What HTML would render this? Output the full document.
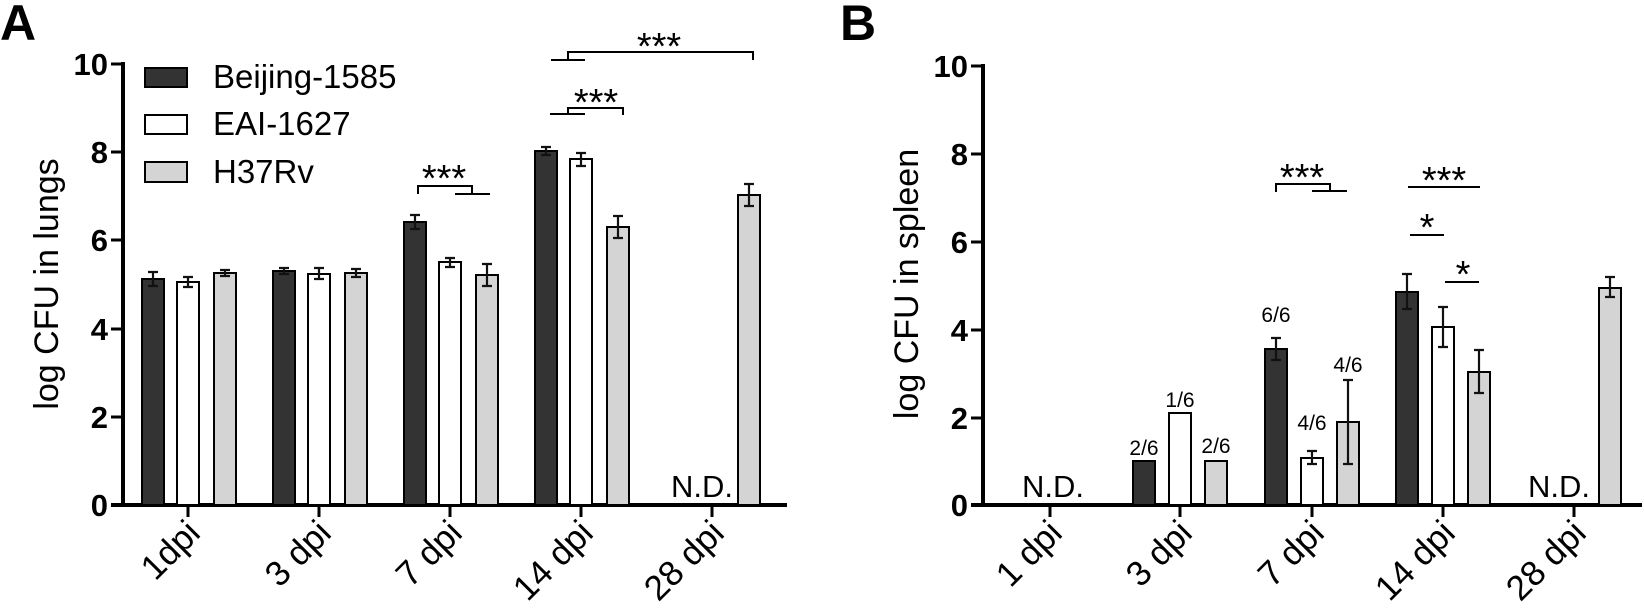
<!DOCTYPE html>
<html><head><meta charset="utf-8"><style>
html,body{margin:0;padding:0;background:#fff;}
svg{display:block;}
text{font-family:"Liberation Sans",Arial,sans-serif;fill:#000;}
.tk{font-family:"Liberation Sans Narrow","Liberation Sans",sans-serif;font-weight:bold;font-size:31px;}
.xl{font-size:35px;}
.st{font-size:38px;}
.fr{font-size:21px;}
.bar{stroke:#000;stroke-width:2;}
.eb{stroke:#111;stroke-width:2.2;fill:none;}
.br{stroke:#000;stroke-width:2;fill:none;}
</style></head><body>
<svg width="1644" height="610" viewBox="0 0 1644 610" xmlns="http://www.w3.org/2000/svg">
<!-- Panel A -->
<text x="0" y="40" style="font-weight:bold;font-size:50px">A</text>
<line x1="123" y1="62" x2="123" y2="507" stroke="#000" stroke-width="4"/>
<line x1="111" y1="505" x2="787" y2="505" stroke="#000" stroke-width="4"/>
<g stroke="#000" stroke-width="3">
<line x1="111" y1="64" x2="123" y2="64"/><line x1="111" y1="152" x2="123" y2="152"/>
<line x1="111" y1="240" x2="123" y2="240"/><line x1="111" y1="329" x2="123" y2="329"/>
<line x1="111" y1="417" x2="123" y2="417"/>
<line x1="188" y1="505" x2="188" y2="517"/><line x1="319" y1="505" x2="319" y2="517"/>
<line x1="450" y1="505" x2="450" y2="517"/><line x1="581" y1="505" x2="581" y2="517"/>
<line x1="712" y1="505" x2="712" y2="517"/>
</g>
<g class="tk" text-anchor="end">
<text x="108" y="75">10</text><text x="108" y="163">8</text><text x="108" y="251">6</text>
<text x="108" y="340">4</text><text x="108" y="428">2</text><text x="108" y="516">0</text>
</g>
<text transform="translate(58,284) rotate(-90)" text-anchor="middle" style="font-size:34px">log CFU in lungs</text>
<!-- legend -->
<rect x="145" y="68" width="42" height="19" fill="#333" class="bar"/>
<rect x="145" y="115" width="42" height="19" fill="#fff" class="bar"/>
<rect x="145" y="162" width="42" height="20" fill="#d4d4d4" class="bar"/>
<g style="font-size:33px"><text x="213" y="88">Beijing-1585</text><text x="213" y="135">EAI-1627</text><text x="213" y="183">H37Rv</text></g>
<!-- bars A -->
<g class="bar">
<rect x="142" y="279" width="22" height="226" fill="#333"/>
<rect x="177" y="282" width="22" height="223" fill="#fff"/>
<rect x="214" y="273" width="22" height="232" fill="#d4d4d4"/>
<rect x="273" y="271" width="22" height="234" fill="#333"/>
<rect x="308" y="274" width="22" height="231" fill="#fff"/>
<rect x="345" y="273" width="22" height="232" fill="#d4d4d4"/>
<rect x="404" y="222" width="22" height="283" fill="#333"/>
<rect x="439" y="262" width="22" height="243" fill="#fff"/>
<rect x="476" y="275" width="22" height="230" fill="#d4d4d4"/>
<rect x="535" y="151" width="22" height="354" fill="#333"/>
<rect x="570" y="159" width="22" height="346" fill="#fff"/>
<rect x="607" y="227" width="22" height="278" fill="#d4d4d4"/>
<rect x="738" y="195" width="22" height="310" fill="#d4d4d4"/>
</g>
<g class="eb">
<path d="M153 272v14M148 272h10M148 286h10"/>
<path d="M188 277v10M183 277h10M183 287h10"/>
<path d="M225 270v6M220 270h10M220 276h10"/>
<path d="M284 268v6M279 268h10M279 274h10"/>
<path d="M319 268v11M314 268h10M314 279h10"/>
<path d="M356 269v8M351 269h10M351 277h10"/>
<path d="M415 215v14M410 215h10M410 229h10"/>
<path d="M450 258v9M445 258h10M445 267h10"/>
<path d="M487 264v22M482 264h10M482 286h10"/>
<path d="M546 147v8M541 147h10M541 155h10"/>
<path d="M581 153v13M576 153h10M576 166h10"/>
<path d="M618 216v22M613 216h10M613 238h10"/>
<path d="M749 184v22M744 184h10M744 206h10"/>
</g>
<text x="702" y="497" text-anchor="middle" style="font-size:31px">N.D.</text>
<!-- brackets A -->
<g class="br">
<path d="M418 194V186H472V194M455 194H490"/>
<path d="M550 114H585M568 114V108H623V115"/>
<path d="M551 60H585M568 60V52H753V60"/>
</g>
<g class="st" text-anchor="middle">
<text x="444" y="191">***</text><text x="596" y="115">***</text><text x="659" y="59">***</text>
</g>
<g class="xl" text-anchor="end">
<text transform="translate(202,535) rotate(-45)">1dpi</text>
<text transform="translate(333,535) rotate(-45)">3 dpi</text>
<text transform="translate(464,535) rotate(-45)">7 dpi</text>
<text transform="translate(595,535) rotate(-45)">14 dpi</text>
<text transform="translate(726,535) rotate(-45)">28 dpi</text>
</g>

<!-- Panel B -->
<text x="840" y="40" style="font-weight:bold;font-size:50px">B</text>
<line x1="983" y1="64" x2="983" y2="507" stroke="#000" stroke-width="4"/>
<line x1="971" y1="505" x2="1642" y2="505" stroke="#000" stroke-width="4"/>
<g stroke="#000" stroke-width="3">
<line x1="971" y1="66" x2="983" y2="66"/><line x1="971" y1="154" x2="983" y2="154"/>
<line x1="971" y1="242" x2="983" y2="242"/><line x1="971" y1="330" x2="983" y2="330"/>
<line x1="971" y1="418" x2="983" y2="418"/>
<line x1="1050" y1="505" x2="1050" y2="517"/><line x1="1180" y1="505" x2="1180" y2="517"/>
<line x1="1312" y1="505" x2="1312" y2="517"/><line x1="1443" y1="505" x2="1443" y2="517"/>
<line x1="1574" y1="505" x2="1574" y2="517"/>
</g>
<g class="tk" text-anchor="end">
<text x="968" y="77">10</text><text x="968" y="165">8</text><text x="968" y="253">6</text>
<text x="968" y="341">4</text><text x="968" y="429">2</text><text x="968" y="516">0</text>
</g>
<text transform="translate(918,284) rotate(-90)" text-anchor="middle" style="font-size:34px">log CFU in spleen</text>
<g class="bar">
<rect x="1133" y="461" width="22" height="44" fill="#333"/>
<rect x="1169" y="413" width="22" height="92" fill="#fff"/>
<rect x="1205" y="461" width="22" height="44" fill="#d4d4d4"/>
<rect x="1265" y="349" width="22" height="156" fill="#333"/>
<rect x="1301" y="458" width="22" height="47" fill="#fff"/>
<rect x="1337" y="422" width="22" height="83" fill="#d4d4d4"/>
<rect x="1396" y="292" width="22" height="213" fill="#333"/>
<rect x="1432" y="327" width="22" height="178" fill="#fff"/>
<rect x="1468" y="372" width="22" height="133" fill="#d4d4d4"/>
<rect x="1599" y="288" width="22" height="217" fill="#d4d4d4"/>
</g>
<g class="eb">
<path d="M1276 338v22M1271 338h10M1271 360h10"/>
<path d="M1312 451v13M1307 451h10M1307 464h10"/>
<path d="M1348 380v84M1343 380h10M1343 464h10"/>
<path d="M1407 274v35M1402 274h10M1402 309h10"/>
<path d="M1443 307v40M1438 307h10M1438 347h10"/>
<path d="M1479 350v43M1474 350h10M1474 393h10"/>
<path d="M1610 277v20M1605 277h10M1605 297h10"/>
</g>
<g class="fr" text-anchor="middle">
<text x="1144" y="455">2/6</text><text x="1180" y="407">1/6</text><text x="1216" y="453">2/6</text>
<text x="1276" y="322">6/6</text><text x="1312" y="430">4/6</text><text x="1348" y="372">4/6</text>
</g>
<g style="font-size:31px" text-anchor="middle">
<text x="1053" y="497">N.D.</text><text x="1559" y="497">N.D.</text>
</g>
<g class="br">
<path d="M1276 192V184H1330V191M1312 191H1347"/>
<path d="M1408 187H1480"/><path d="M1410 235H1444"/><path d="M1445 282H1479"/>
</g>
<g class="st" text-anchor="middle">
<text x="1302" y="190">***</text><text x="1444" y="193">***</text>
<text x="1427" y="240">*</text><text x="1463" y="287">*</text>
</g>
<g class="xl" text-anchor="end">
<text transform="translate(1064,535) rotate(-45)">1 dpi</text>
<text transform="translate(1194,535) rotate(-45)">3 dpi</text>
<text transform="translate(1326,535) rotate(-45)">7 dpi</text>
<text transform="translate(1457,535) rotate(-45)">14 dpi</text>
<text transform="translate(1588,535) rotate(-45)">28 dpi</text>
</g>
</svg>
</body></html>
